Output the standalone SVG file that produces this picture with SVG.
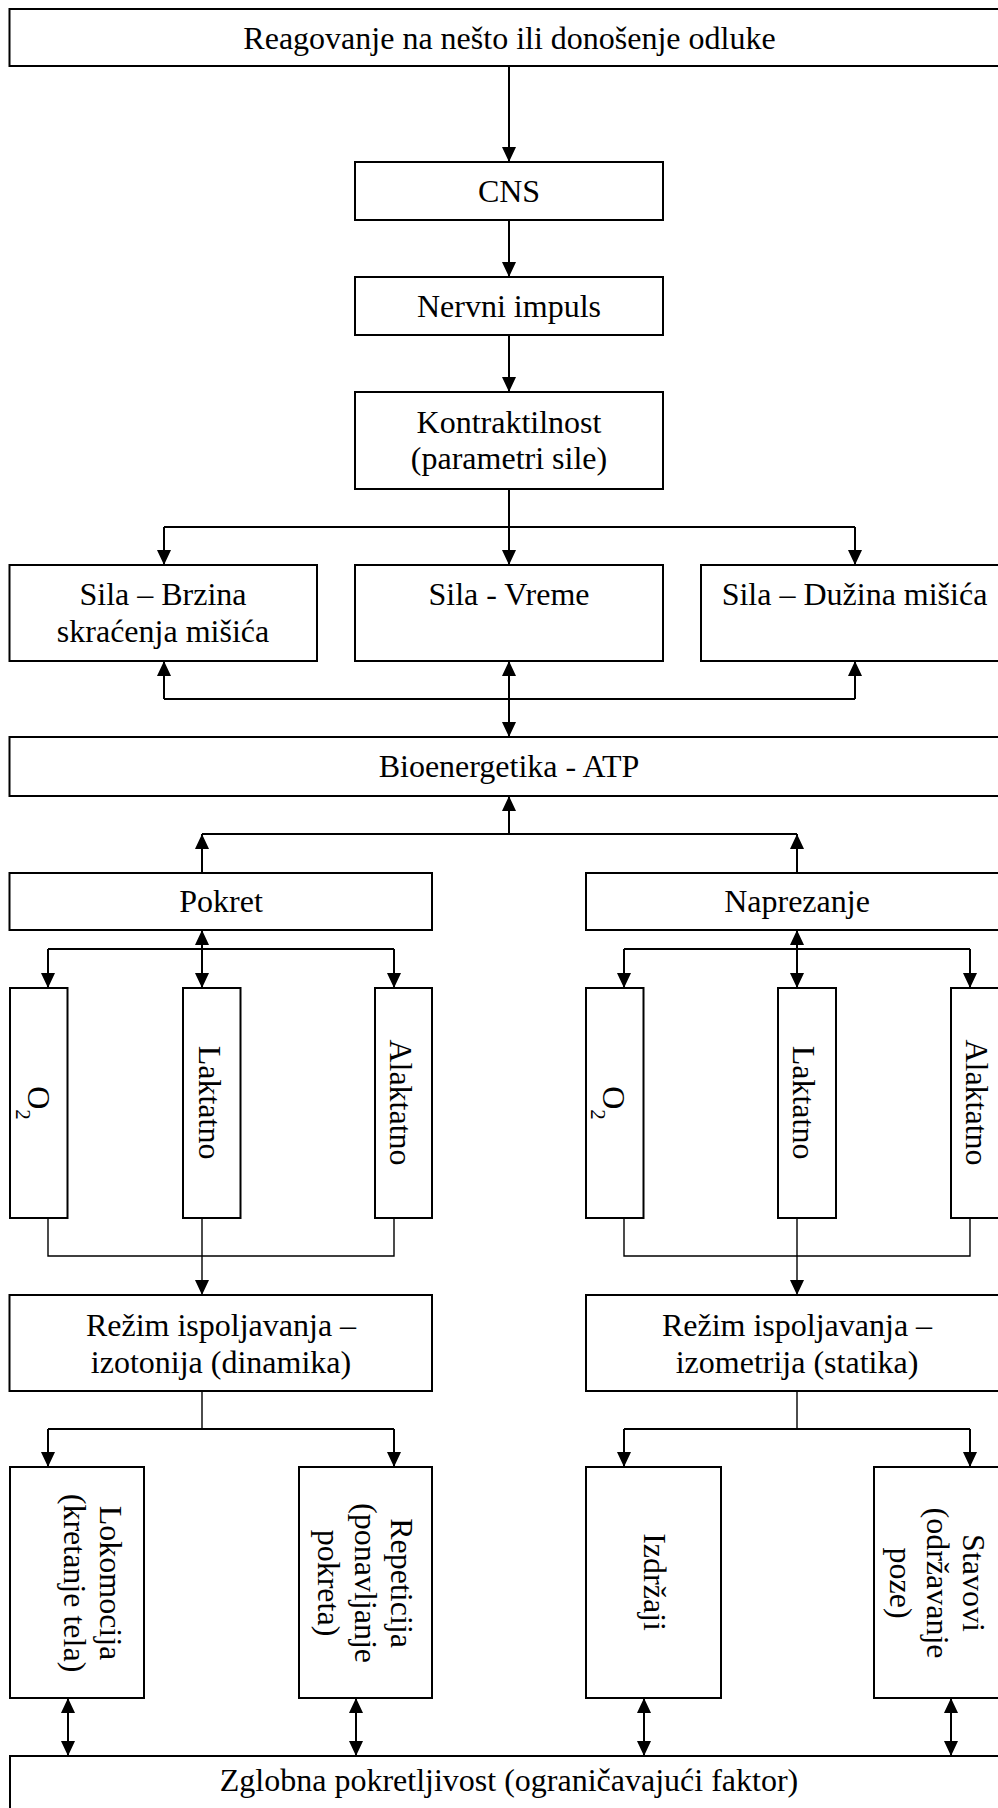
<svg xmlns="http://www.w3.org/2000/svg" width="998" height="1808" viewBox="0 0 998 1808">
<style>
.box{fill:#fff;stroke:#000;stroke-width:2}
.t{font-family:"Liberation Serif","Times New Roman",serif;font-size:32px;fill:#000;text-anchor:middle}
.c{stroke:#000;stroke-width:2;fill:none}
.m{stroke:#000;stroke-width:1.4;fill:none}
.a{marker-end:url(#ah)}
.d{marker-start:url(#ah);marker-end:url(#ah)}
</style>
<defs>
<marker id="ah" markerUnits="userSpaceOnUse" markerWidth="15" markerHeight="14" refX="15" refY="7" orient="auto-start-reverse" viewBox="0 0 15 14">
<path d="M0,0 L15,7 L0,14 z" fill="#000"/>
</marker>
</defs>
<rect width="998" height="1808" fill="#fff"/>

<g id="connectors">
<line class="c a" x1="509" y1="66" x2="509" y2="162"/>
<line class="c a" x1="509" y1="220" x2="509" y2="277"/>
<line class="c a" x1="509" y1="335" x2="509" y2="392"/>
<line class="c a" x1="509" y1="489" x2="509" y2="565"/>
<line class="c" x1="164" y1="527" x2="855" y2="527"/>
<line class="c a" x1="164" y1="527" x2="164" y2="565"/>
<line class="c a" x1="855" y1="527" x2="855" y2="565"/>
<line class="c" x1="164" y1="699" x2="855" y2="699"/>
<line class="c a" x1="164" y1="699" x2="164" y2="661"/>
<line class="c a" x1="855" y1="699" x2="855" y2="661"/>
<line class="c d" x1="509" y1="661" x2="509" y2="737"/>
<line class="c a" x1="509" y1="834" x2="509" y2="796"/>
<line class="c" x1="202" y1="834" x2="797" y2="834"/>
<line class="c a" x1="202" y1="873" x2="202" y2="834"/>
<line class="c a" x1="797" y1="873" x2="797" y2="834"/>
<line class="c d" x1="202" y1="930" x2="202" y2="988"/>
<line class="c" x1="48" y1="949" x2="394" y2="949"/>
<line class="c a" x1="48" y1="949" x2="48" y2="988"/>
<line class="c a" x1="394" y1="949" x2="394" y2="988"/>
<line class="c d" x1="797" y1="930" x2="797" y2="988"/>
<line class="c" x1="624" y1="949" x2="970" y2="949"/>
<line class="c a" x1="624" y1="949" x2="624" y2="988"/>
<line class="c a" x1="970" y1="949" x2="970" y2="988"/>
<polyline class="m" points="48,1218 48,1256 394,1256 394,1218"/>
<line class="m a" x1="202" y1="1218" x2="202" y2="1295"/>
<polyline class="m" points="624,1218 624,1256 970,1256 970,1218"/>
<line class="m a" x1="797" y1="1218" x2="797" y2="1295"/>
<line class="m" x1="202" y1="1391" x2="202" y2="1429"/>
<line class="c" x1="48" y1="1429" x2="394" y2="1429"/>
<line class="c a" x1="48" y1="1429" x2="48" y2="1467"/>
<line class="c a" x1="394" y1="1429" x2="394" y2="1467"/>
<line class="m" x1="797" y1="1391" x2="797" y2="1429"/>
<line class="c" x1="624" y1="1429" x2="970" y2="1429"/>
<line class="c a" x1="624" y1="1429" x2="624" y2="1467"/>
<line class="c a" x1="970" y1="1429" x2="970" y2="1467"/>
<line class="c d" x1="68" y1="1698" x2="68" y2="1756"/>
<line class="c d" x1="356" y1="1698" x2="356" y2="1756"/>
<line class="c d" x1="644" y1="1698" x2="644" y2="1756"/>
<line class="c d" x1="951" y1="1698" x2="951" y2="1756"/>
</g>

<g id="n-reagovanje"><rect class="box" x="9.5" y="9" width="1000" height="57"/><text class="t" x="509.5" y="48.5">Reagovanje na nešto ili donošenje odluke</text></g>
<g id="n-cns"><rect class="box" x="355" y="162" width="308" height="58"/><text class="t" x="509" y="202">CNS</text></g>
<g id="n-nervni"><rect class="box" x="355" y="277" width="308" height="58"/><text class="t" x="509" y="316.5">Nervni impuls</text></g>
<g id="n-kontraktilnost"><rect class="box" x="355" y="392" width="308" height="97"/><text class="t" x="509" y="432.5">Kontraktilnost</text><text class="t" x="509" y="469">(parametri sile)</text></g>
<g id="n-sila-brzina"><rect class="box" x="9.5" y="565" width="307.5" height="96"/><text class="t" x="163" y="605">Sila – Brzina</text><text class="t" x="163" y="641.5">skraćenja mišića</text></g>
<g id="n-sila-vreme"><rect class="box" x="355" y="565" width="308" height="96"/><text class="t" x="509" y="605">Sila - Vreme</text></g>
<g id="n-sila-duzina"><rect class="box" x="701" y="565" width="308" height="96"/><text class="t" x="854.5" y="605">Sila – Dužina mišića</text></g>
<g id="n-bioenergetika"><rect class="box" x="9.5" y="737" width="1000" height="59"/><text class="t" x="509" y="777">Bioenergetika - ATP</text></g>
<g id="n-pokret"><rect class="box" x="9.5" y="873" width="422.5" height="57"/><text class="t" x="221" y="912">Pokret</text></g>
<g id="n-naprezanje"><rect class="box" x="586" y="873" width="423" height="57"/><text class="t" x="797" y="912">Naprezanje</text></g>

<g id="n-o2-l"><rect class="box" x="10" y="988" width="57.5" height="230"/><text class="t" transform="translate(27.5,1103) rotate(90)">O<tspan font-size="21" baseline-shift="sub">2</tspan></text></g>
<g id="n-laktatno-l"><rect class="box" x="183" y="988" width="57.5" height="230"/><text class="t" transform="translate(198.5,1102.5) rotate(90)">Laktatno</text></g>
<g id="n-alaktatno-l"><rect class="box" x="375" y="988" width="57" height="230"/><text class="t" transform="translate(390,1102.5) rotate(90)">Alaktatno</text></g>
<g id="n-o2-r"><rect class="box" x="586" y="988" width="57.5" height="230"/><text class="t" transform="translate(603,1103) rotate(90)">O<tspan font-size="21" baseline-shift="sub">2</tspan></text></g>
<g id="n-laktatno-r"><rect class="box" x="778" y="988" width="58" height="230"/><text class="t" transform="translate(793,1102.5) rotate(90)">Laktatno</text></g>
<g id="n-alaktatno-r"><rect class="box" x="951" y="988" width="58" height="230"/><text class="t" transform="translate(965.5,1102.5) rotate(90)">Alaktatno</text></g>

<g id="n-rezim-izotonija"><rect class="box" x="9.5" y="1295" width="422.5" height="96"/><text class="t" x="221" y="1336">Režim ispoljavanja –</text><text class="t" x="221" y="1373">izotonija (dinamika)</text></g>
<g id="n-rezim-izometrija"><rect class="box" x="586" y="1295" width="423" height="96"/><text class="t" x="797" y="1336">Režim ispoljavanja –</text><text class="t" x="797" y="1373">izometrija (statika)</text></g>

<g id="n-lokomocija"><rect class="box" x="10" y="1467" width="134" height="231"/><text class="t" transform="translate(100,1583) rotate(90)">Lokomocija</text><text class="t" transform="translate(63.5,1583) rotate(90)">(kretanje tela)</text></g>
<g id="n-repeticija"><rect class="box" x="299" y="1467" width="133" height="231"/><text class="t" transform="translate(391,1583) rotate(90)">Repeticija</text><text class="t" transform="translate(354.5,1583) rotate(90)">(ponavljanje</text><text class="t" transform="translate(318,1583) rotate(90)">pokreta)</text></g>
<g id="n-izdrzaji"><rect class="box" x="586" y="1467" width="135" height="231"/><text class="t" transform="translate(644,1582) rotate(90)">Izdržaji</text></g>
<g id="n-stavovi"><rect class="box" x="874" y="1467" width="135" height="231"/><text class="t" transform="translate(963,1583) rotate(90)">Stavovi</text><text class="t" transform="translate(926.5,1583) rotate(90)">(održavanje</text><text class="t" transform="translate(890,1583) rotate(90)">poze)</text></g>

<g id="n-zglobna"><rect class="box" x="10" y="1756" width="1000" height="70"/><text class="t" x="509" y="1790.5">Zglobna pokretljivost (ograničavajući faktor)</text></g>
</svg>
